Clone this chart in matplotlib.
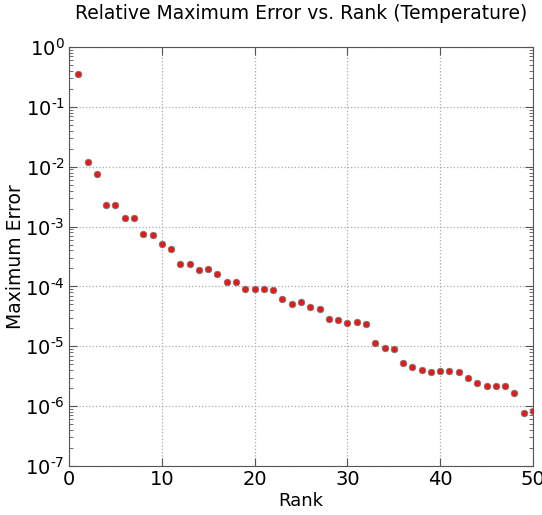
import numpy as np
import matplotlib
matplotlib.use('Agg')
import matplotlib.pyplot as plt
from matplotlib.ticker import LogLocator, FuncFormatter

rank = np.arange(1, 51)
max_err = [3.55e-1, 1.22e-2, 7.5e-3, 2.26e-3, 2.26e-3, 1.4e-3, 1.4e-3, 7.5e-4, 7.2e-4, 5.2e-4,
           4.2e-4, 2.34e-4, 2.34e-4, 1.9e-4, 1.95e-4, 1.62e-4, 1.2e-4, 1.2e-4, 9.0e-5, 8.9e-5,
           9.2e-5, 8.8e-5, 6.2e-5, 5.1e-5, 5.5e-5, 4.5e-5, 4.2e-5, 2.9e-5, 2.8e-5, 2.45e-5,
           2.5e-5, 2.35e-5, 1.12e-5, 9.5e-6, 8.9e-6, 5.3e-6, 4.5e-6, 4.0e-6, 3.7e-6, 3.9e-6,
           3.8e-6, 3.7e-6, 3.0e-6, 2.4e-6, 2.2e-6, 2.15e-6, 2.15e-6, 1.65e-6, 7.8e-7, 8.2e-7]

plt.rcParams['font.family'] = ['DejaVu Sans']
plt.rcParams['mathtext.default'] = 'regular'


def exp_label(v, pos):
    # hyphen instead of wide minus, like the old labels
    return r'$10^{\text{%d}}$' % int(round(np.log10(v)))


fig = plt.figure(figsize=(5.42, 5.15), dpi=100)
ax = fig.add_axes([69/542, 49/515, 464/542, 419/515])

ax.scatter(rank, max_err, s=22, c='#e41a1c', edgecolors='#777777', linewidths=0.6, zorder=3)

ax.set_yscale('log')
ax.set_xlim(0, 50)
ax.set_ylim(1e-7, 1e0)
ax.yaxis.set_major_locator(LogLocator(base=10, numticks=10))
ax.yaxis.set_major_formatter(FuncFormatter(exp_label))
ax.yaxis.set_minor_locator(LogLocator(base=10, subs=np.arange(2, 10), numticks=10))
ax.yaxis.set_minor_formatter(plt.NullFormatter())

ax.grid(True, which='major', color='#aaaaaa', linestyle=':', linewidth=0.9)
ax.tick_params(which='both', direction='in', top=True, right=True, labelsize=14)
ax.tick_params(axis='x', pad=3)
ax.tick_params(axis='y', pad=3)
ax.tick_params(which='major', length=6, width=0.8, color='#555555')
ax.tick_params(which='minor', length=3, width=0.6, color='#555555')
for s in ax.spines.values():
    s.set_color('#555555')

ax.set_xlabel('Rank', fontsize=13, labelpad=2)
ax.set_ylabel('Maximum Error', fontsize=13.5)
ax.yaxis.set_label_coords(-0.095, 0.5)
ax.set_title('Relative Maximum Error vs. Rank (Temperature)', fontsize=13.5, pad=20)

fig.savefig('out.png', dpi=100)
